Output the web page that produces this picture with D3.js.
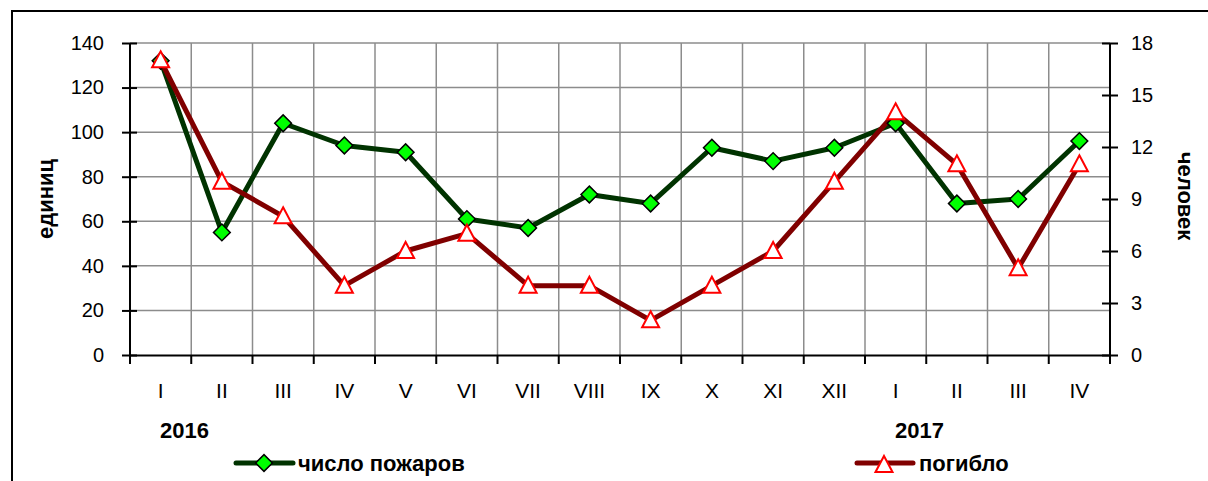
<!DOCTYPE html>
<html>
<head>
<meta charset="utf-8">
<script src="https://cdn.jsdelivr.net/npm/d3@7"></script>
<style>
  body { margin: 0; background: #fff; }
  svg { display: block; font-family: "Liberation Sans", Arial, sans-serif; }
</style>
</head>
<body>
<svg id="chart" width="1208" height="481"></svg>
<script>
// months, two years
var months = ["I","II","III","IV","V","VI","VII","VIII","IX","X","XI","XII","I","II","III","IV"];
var fires = [132, 55, 104, 94, 91, 61, 57, 72, 68, 93, 87, 93, 104, 68, 70, 96];
var deaths = [17, 10, 8, 4, 6, 7, 4, 4, 2, 4, 6, 10, 14, 11, 5, 11];
var leftTicks = [0, 20, 40, 60, 80, 100, 120, 140];
var rightTicks = [0, 3, 6, 9, 12, 15, 18];
var years = [{label: "2016", idx: 0}, {label: "2017", idx: 12}];

var svg = d3.select("#chart");
var margin = {top: 43, left: 130, right: 98, bottom: 126};
var width = 1208 - margin.left - margin.right;   // 980
var height = 481 - margin.top - margin.bottom;   // 312

// outer frame (cut off at right/bottom like the picture)
svg.append("rect")
    .attr("x", 12).attr("y", 11)
    .attr("width", 1300).attr("height", 600)
    .attr("fill", "none").attr("stroke", "#000").attr("stroke-width", 2);

var g = svg.append("g").attr("transform", "translate(" + margin.left + "," + margin.top + ")");

var x = d3.scaleBand().domain(d3.range(months.length)).range([0, width]);
var y = d3.scaleLinear().domain([0, 140]).range([height, 0]);
var y2 = d3.scaleLinear().domain([0, 18]).range([height, 0]);

// grid
g.append("g").selectAll("line").data(leftTicks.slice(1)).join("line")
    .attr("x1", 0).attr("x2", width)
    .attr("y1", function(d) { return y(d); }).attr("y2", function(d) { return y(d); })
    .attr("stroke", "#8c8c8c").attr("stroke-width", 1.5);

g.append("g").selectAll("line").data(d3.range(1, months.length)).join("line")
    .attr("x1", function(d) { return x(d); }).attr("x2", function(d) { return x(d); })
    .attr("y1", 0).attr("y2", height)
    .attr("stroke", "#8c8c8c").attr("stroke-width", 1.5);

// axes
var yAxis = g.append("g")
    .call(d3.axisLeft(y).tickValues(leftTicks).tickSize(8).tickPadding(18));
yAxis.selectAll(".tick line").attr("x2", -8).attr("x1", 7);

var y2Axis = g.append("g")
    .attr("transform", "translate(" + width + ",0)")
    .call(d3.axisRight(y2).tickValues(rightTicks).tickSize(8).tickPadding(13));
y2Axis.selectAll(".tick line").attr("x1", -8);

var xAxis = g.append("g")
    .attr("transform", "translate(0," + height + ")")
    .call(d3.axisBottom(x).tickFormat(function(i) { return months[i]; }).tickSize(0).tickPadding(28));

// category boundary ticks
xAxis.selectAll("line.bt").data(d3.range(0, months.length + 1)).join("line")
    .attr("class", "bt")
    .attr("x1", function(d) { return d * x.step(); }).attr("x2", function(d) { return d * x.step(); })
    .attr("y1", 0).attr("y2", 9)
    .attr("stroke", "#000").attr("stroke-width", 2);

[yAxis, y2Axis, xAxis].forEach(function(a) {
  a.select(".domain").attr("stroke", "#000").attr("stroke-width", 2);
  a.selectAll(".tick line").attr("stroke", "#000").attr("stroke-width", 2);
  a.selectAll("text").attr("font-size", 20).attr("fill", "#000")
      .attr("font-family", "'Liberation Sans', Arial, sans-serif");
});
xAxis.selectAll("text").attr("font-size", 21);
yAxis.select(".domain").attr("d", "M0," + height + "V0");
y2Axis.select(".domain").attr("d", "M0," + (height + 9) + "V0");

// year labels
g.selectAll("text.year").data(years).join("text")
    .attr("class", "year")
    .attr("x", function(d) { return x(d.idx) + 30; })
    .attr("y", height + 83)
    .attr("font-size", 22).attr("font-weight", "bold")
    .text(function(d) { return d.label; });

// axis titles
svg.append("text")
    .attr("transform", "translate(53,199) rotate(-90)")
    .attr("text-anchor", "middle")
    .attr("font-size", 22).attr("font-weight", "bold")
    .text("единиц");
svg.append("text")
    .attr("transform", "translate(1178,196) rotate(90)")
    .attr("text-anchor", "middle")
    .attr("font-size", 22).attr("font-weight", "bold")
    .text("человек");

var cx = function(d, i) { return x(i) + x.bandwidth() / 2; };

// fires line
g.append("path")
    .datum(fires)
    .attr("fill", "none").attr("stroke", "#003300").attr("stroke-width", 5)
    .attr("stroke-linejoin", "round")
    .attr("d", d3.line().x(cx).y(function(d) { return y(d); }));

// deaths line
g.append("path")
    .datum(deaths)
    .attr("fill", "none").attr("stroke", "#800000").attr("stroke-width", 5)
    .attr("stroke-linejoin", "round")
    .attr("d", d3.line().x(cx).y(function(d) { return y2(d); }));

var diamond = d3.symbol().type(d3.symbolSquare).size(140);
var tri = "M0,-9L8.5,7L-8.5,7Z";

g.selectAll("path.dm").data(fires).join("path")
    .attr("class", "dm")
    .attr("d", diamond)
    .attr("transform", function(d, i) { return "translate(" + cx(d, i) + "," + y(d) + ") rotate(45)"; })
    .attr("fill", "#00ff00").attr("stroke", "#000").attr("stroke-width", 1.5);

g.selectAll("path.tr").data(deaths).join("path")
    .attr("class", "tr")
    .attr("d", tri)
    .attr("transform", function(d, i) { return "translate(" + cx(d, i) + "," + y2(d) + ")"; })
    .attr("fill", "#fff").attr("stroke", "#ff0000").attr("stroke-width", 2);

// legend
var leg = svg.append("g");
leg.append("line").attr("x1", 236).attr("x2", 293).attr("y1", 463).attr("y2", 463)
    .attr("stroke", "#003300").attr("stroke-width", 5).attr("stroke-linecap", "round");
leg.append("path").attr("d", diamond).attr("transform", "translate(264,463) rotate(45)")
    .attr("fill", "#00ff00").attr("stroke", "#000").attr("stroke-width", 1.5);
leg.append("text").attr("x", 298).attr("y", 471).attr("font-size", 22).attr("font-weight", "bold")
    .text("число пожаров");

leg.append("line").attr("x1", 857).attr("x2", 913).attr("y1", 463).attr("y2", 463)
    .attr("stroke", "#800000").attr("stroke-width", 5).attr("stroke-linecap", "round");
leg.append("path").attr("d", tri).attr("transform", "translate(884,465)")
    .attr("fill", "#fff").attr("stroke", "#ff0000").attr("stroke-width", 2);
leg.append("text").attr("x", 919).attr("y", 471).attr("font-size", 22).attr("font-weight", "bold")
    .text("погибло");
</script>
</body>
</html>
